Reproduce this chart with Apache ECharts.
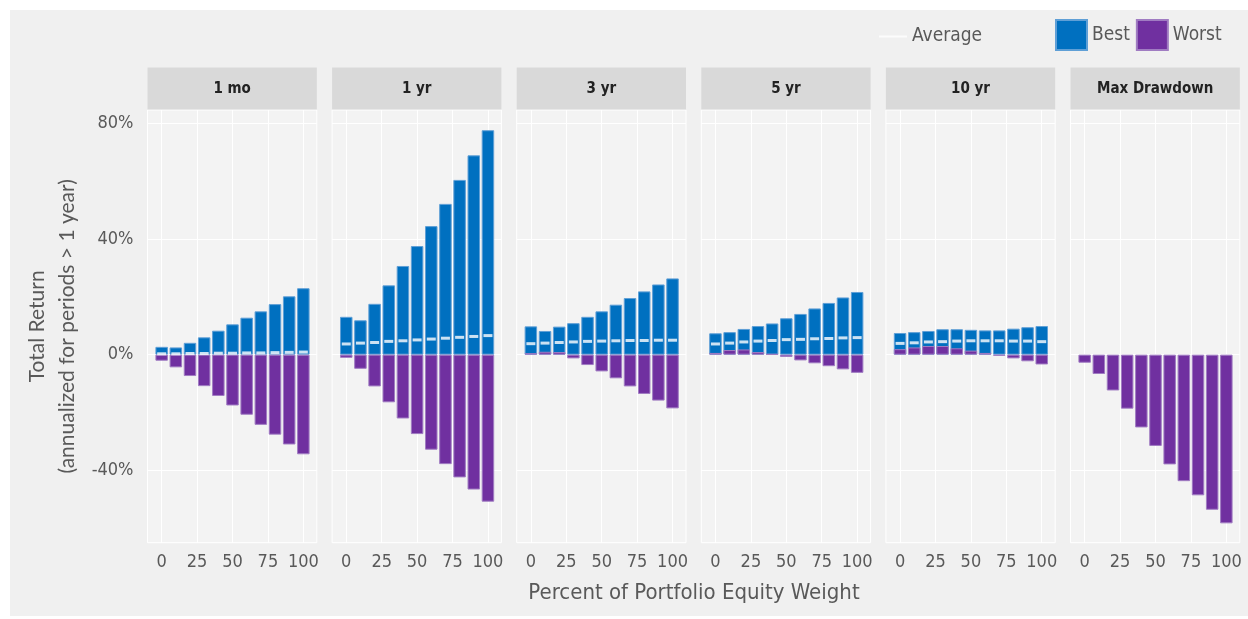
<!DOCTYPE html>
<html>
<head>
<meta charset="utf-8">
<title>Best, worst and average returns by equity weight</title>
<script src="https://cdn.jsdelivr.net/npm/echarts@6/dist/echarts.min.js"></script>
<style>
  html, body { margin: 0; padding: 0; background: #ffffff; }
  #chart { width: 1248px; height: 619px; }
</style>
</head>
<body>
<div id="chart"></div>
<script>
// Equity weight of the portfolio (%), one bar per step
const weights = [0, 10, 20, 30, 40, 50, 60, 70, 80, 90, 100];

// Holding periods shown as panels
const panels = ['1 mo', '1 yr', '3 yr', '5 yr', '10 yr', 'Max Drawdown'];

// Best return per weight (%)
const best1mo  = [2.7, 2.5, 4.1, 6.0, 8.3, 10.5, 12.8, 15.0, 17.5, 20.2, 23.0];
const best1yr  = [13.1, 11.9, 17.6, 24.0, 30.7, 37.6, 44.5, 52.2, 60.5, 69.0, 77.7];
const best3yr  = [9.8, 8.2, 9.7, 10.9, 13.1, 15.0, 17.3, 19.6, 21.9, 24.3, 26.4];
const best5yr  = [7.4, 7.8, 8.9, 9.9, 10.8, 12.6, 14.1, 16.0, 17.9, 19.8, 21.7];
const best10yr = [7.5, 7.8, 8.2, 8.8, 8.8, 8.6, 8.4, 8.4, 9.0, 9.5, 9.9];

// Worst return per weight (%)
const worst1mo  = [-2.1, -4.4, -7.4, -10.9, -14.3, -17.6, -20.8, -24.3, -27.7, -31.1, -34.5];
const worst1yr  = [-1.1, -4.9, -11.0, -16.5, -22.1, -27.5, -32.9, -37.9, -42.5, -46.7, -50.9];
const worst3yr  = [0.5, 1.0, 0.9, -1.3, -3.6, -5.8, -8.2, -11.0, -13.6, -15.9, -18.6];
const worst5yr  = [0.6, 1.6, 1.8, 0.9, 0.2, -0.8, -2.0, -3.0, -4.0, -5.1, -6.3];
const worst10yr = [1.9, 2.5, 3.0, 3.0, 2.2, 1.4, 0.6, -0.4, -1.3, -2.3, -3.4];
const maxDrawdown = [-2.8, -6.7, -12.4, -18.7, -25.2, -31.6, -38.0, -43.8, -48.7, -53.7, -58.4];

// Average return per weight (%)
const avg1mo  = [0.3, 0.3, 0.4, 0.4, 0.5, 0.5, 0.6, 0.6, 0.7, 0.8, 0.9];
const avg1yr  = [3.7, 4.0, 4.2, 4.6, 4.8, 5.1, 5.4, 5.7, 6.0, 6.3, 6.6];
const avg3yr  = [3.8, 4.0, 4.2, 4.4, 4.6, 4.7, 4.8, 4.9, 4.9, 5.0, 5.0];
const avg5yr  = [3.7, 4.0, 4.4, 4.7, 4.9, 5.2, 5.3, 5.5, 5.6, 5.8, 5.9];
const avg10yr = [3.9, 4.1, 4.4, 4.5, 4.7, 4.8, 4.8, 4.8, 4.7, 4.7, 4.5];

// Tick labels
const xTicks = [0, 25, 50, 75, 100];
const yTicks = [-40, 0, 40, 80];

const bestSets  = [best1mo, best1yr, best3yr, best5yr, best10yr, null];
const worstSets = [worst1mo, worst1yr, worst3yr, worst5yr, worst10yr, maxDrawdown];
const avgSets   = [avg1mo, avg1yr, avg3yr, avg5yr, avg10yr, null];

// Layout
const PANEL_LEFT = 147.5, PANEL_PITCH = 184.6, PANEL_W = 169.3;
const PANEL_TOP = 110, PANEL_H = 432.7;
const STRIP_TOP = 67.5, STRIP_H = 42;
const BLUE = '#0070c0', PURPLE = '#7030a0';
const TEXT = '#595959';
const NARROW = '"Liberation Sans Narrow", "DejaVu Sans Condensed", "Roboto Condensed", sans-serif';

const pairs = (ys) => weights.map((w, i) => [w, ys[i]]);

const grids = [], xAxes = [], yAxes = [], series = [], graphics = [];

graphics.push({
  type: 'rect', z: -10, silent: true,
  shape: { x: 10, y: 10, width: 1238, height: 606 },
  style: { fill: '#f0f0f0' }
});

panels.forEach((name, i) => {
  const left = PANEL_LEFT + i * PANEL_PITCH;
  grids.push({
    left: left, top: PANEL_TOP, width: PANEL_W, height: PANEL_H,
    show: true, backgroundColor: '#f3f3f3', borderColor: '#ffffff', borderWidth: 1
  });
  xAxes.push({
    type: 'value', gridIndex: i, min: -10, max: 109.5,
    axisLine: { show: false },
    axisTick: { show: false, customValues: xTicks },
    axisLabel: { customValues: xTicks, color: TEXT, fontSize: 18, fontFamily: NARROW, margin: 11 },
    splitLine: { show: true, lineStyle: { color: '#ffffff', width: 1 } }
  });
  yAxes.push({
    type: 'value', gridIndex: i, min: -65.1, max: 84.7,
    axisLine: { show: false },
    axisTick: { show: false, customValues: yTicks },
    axisLabel: {
      show: i === 0, customValues: yTicks, color: TEXT, fontSize: 18,
      fontFamily: NARROW, margin: 14, formatter: (v) => v + '%'
    },
    splitLine: { show: true, lineStyle: { color: '#ffffff', width: 1 } },
    name: i === 0 ? 'Total Return\n(annualized for periods > 1 year)' : '',
    nameLocation: 'middle', nameRotate: 90, nameGap: 65,
    nameTextStyle: { color: TEXT, fontSize: 21, fontFamily: 'Lato, "Open Sans", sans-serif', lineHeight: 30 }
  });

  if (bestSets[i]) {
    series.push({
      name: 'Best', type: 'bar', xAxisIndex: i, yAxisIndex: i,
      data: pairs(bestSets[i]), barWidth: 12.5, barGap: '-100%',
      itemStyle: { color: BLUE, borderColor: '#5f9fd6', borderWidth: 1 },
      z: 2, animation: false
    });
  }
  series.push({
    name: 'Worst', type: 'bar', xAxisIndex: i, yAxisIndex: i,
    data: pairs(worstSets[i]), barWidth: 12.5, barGap: '-100%',
    itemStyle: { color: PURPLE, borderColor: '#a07cc2', borderWidth: 1 },
    z: 3, animation: false
  });
  if (avgSets[i]) {
    series.push({
      name: 'Average', type: 'scatter', xAxisIndex: i, yAxisIndex: i,
      data: pairs(avgSets[i]), symbol: 'rect', symbolSize: [9, 3],
      itemStyle: { color: '#ffffff' },
      z: 5, animation: false
    });
  }

  // Facet strip
  graphics.push({
    type: 'rect', silent: true,
    shape: { x: left, y: STRIP_TOP, width: PANEL_W, height: STRIP_H },
    style: { fill: '#d9d9d9' }
  });
  graphics.push({
    type: 'text', silent: true,
    x: left + PANEL_W / 2, y: STRIP_TOP + STRIP_H / 2 + 1,
    style: {
      text: name, fill: '#222222', fontSize: 15, fontWeight: 'bold',
      fontFamily: NARROW, align: 'center', verticalAlign: 'middle'
    }
  });
});

// Shared x-axis title
graphics.push({
  type: 'text', silent: true,
  x: 694, y: 593,
  style: {
    text: 'Percent of Portfolio Equity Weight', fill: TEXT, fontSize: 22,
    fontFamily: NARROW, align: 'center', verticalAlign: 'middle'
  }
});

const chart = echarts.init(document.getElementById('chart'), null, { renderer: 'canvas' });
chart.setOption({
  backgroundColor: '#ffffff',
  animation: false,
  grid: grids,
  xAxis: xAxes,
  yAxis: yAxes,
  series: series,
  graphic: graphics,
  legend: [
    {
      data: [{ name: 'Average', icon: 'rect' }],
      left: 879, top: 27, padding: 0, itemWidth: 28, itemHeight: 2, itemGap: 8,
      textStyle: { color: TEXT, fontSize: 19, fontFamily: NARROW },
      selectedMode: false
    },
    {
      data: [{ name: 'Best', icon: 'rect' }, { name: 'Worst', icon: 'rect' }],
      left: 1055, top: 19, padding: 0, itemWidth: 31, itemHeight: 30, itemGap: 6,
      textStyle: { color: TEXT, fontSize: 19, fontFamily: NARROW },
      selectedMode: false
    }
  ]
});
</script>
</body>
</html>
